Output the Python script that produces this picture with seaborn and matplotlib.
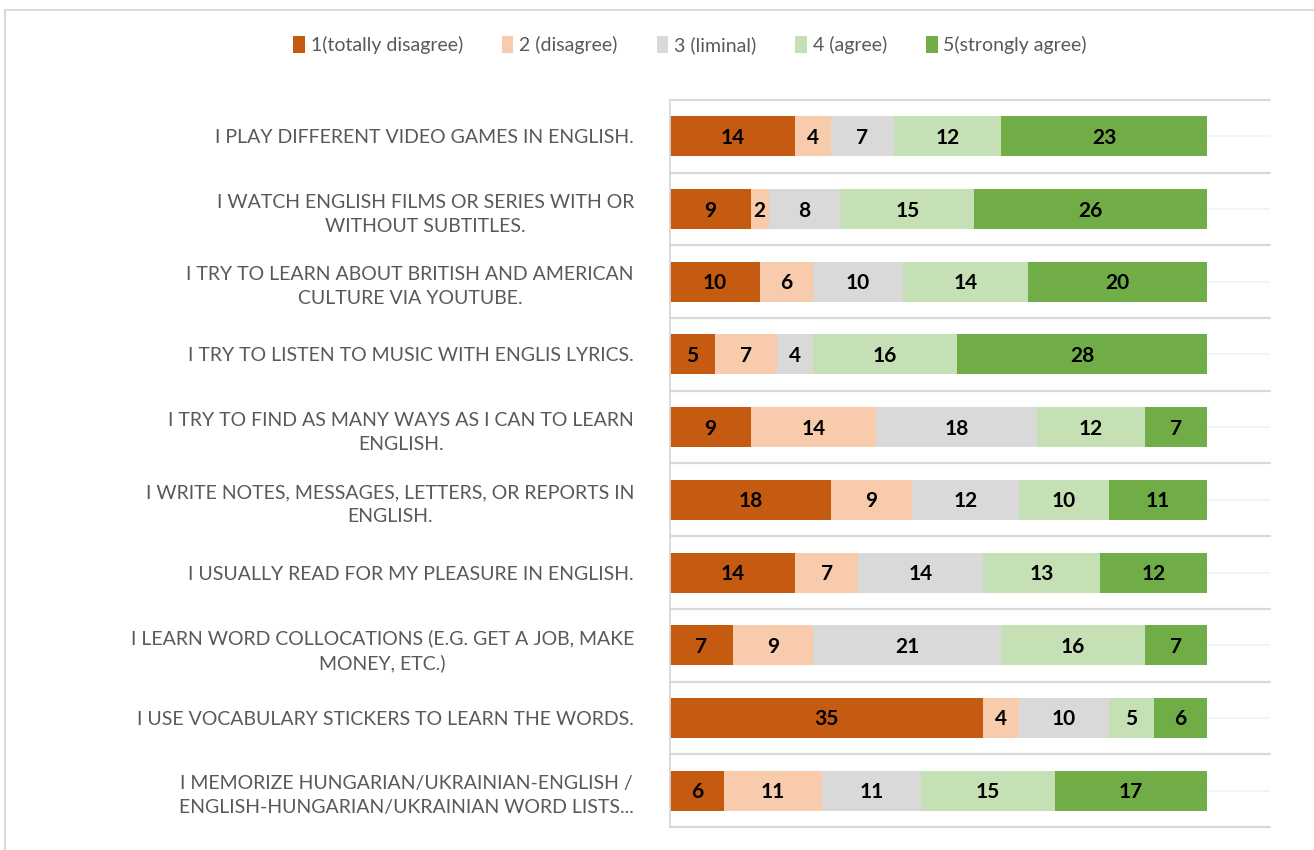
import matplotlib
matplotlib.use("Agg")
import numpy as np
import pandas as pd
import seaborn as sns
import matplotlib.pyplot as plt
from matplotlib.lines import Line2D
from matplotlib.patches import Patch

# statements, top to bottom
statements = [
    "I PLAY DIFFERENT VIDEO GAMES IN ENGLISH.",
    "I WATCH ENGLISH FILMS OR SERIES WITH OR\nWITHOUT SUBTITLES.",
    "I TRY TO LEARN ABOUT BRITISH AND AMERICAN\nCULTURE VIA YOUTUBE.",
    "I TRY TO LISTEN TO MUSIC WITH ENGLIS LYRICS.",
    "I TRY TO FIND AS MANY WAYS AS I CAN TO LEARN\nENGLISH.",
    "I WRITE NOTES, MESSAGES, LETTERS, OR REPORTS IN\nENGLISH.",
    "I USUALLY READ FOR MY PLEASURE IN ENGLISH.",
    "I LEARN WORD COLLOCATIONS (E.G. GET A JOB, MAKE\nMONEY, ETC.)",
    "I USE VOCABULARY STICKERS TO LEARN THE WORDS.",
    "I MEMORIZE HUNGARIAN/UKRAINIAN-ENGLISH /\nENGLISH-HUNGARIAN/UKRAINIAN WORD LISTS...",
]

levels = ["1(totally disagree)", "2 (disagree)", "3 (liminal)", "4 (agree)", "5(strongly agree)"]

totally_disagree = [14, 9, 10, 5, 9, 18, 14, 7, 35, 6]
disagree = [4, 2, 6, 7, 14, 9, 7, 9, 4, 11]
liminal = [7, 8, 10, 4, 18, 12, 14, 21, 10, 11]
agree = [12, 15, 14, 16, 12, 10, 13, 16, 5, 15]
strongly_agree = [23, 26, 20, 28, 7, 11, 12, 7, 6, 17]

colors = ["#C55A11", "#F8CBAD", "#D9D9D9", "#C5E0B4", "#70AD47"]

series = [totally_disagree, disagree, liminal, agree, strongly_agree]
vals = np.array(series)            # shape (5, 10)
cum = vals.cumsum(axis=0)

df = pd.DataFrame({"statement": statements})
for i, lev in enumerate(levels):
    df[lev] = cum[i]

sns.set_theme(style="white")
plt.rcParams["font.family"] = ["Lato", "DejaVu Sans"]

fig = plt.figure(figsize=(13.14, 8.5), dpi=100)
ax = fig.add_axes([670 / 1314, 1 - 827 / 850, 600 / 1314, 727 / 850])

# stacked bars: draw cumulative totals from the longest down
for i in range(len(levels) - 1, -1, -1):
    sns.barplot(data=df, x=levels[i], y="statement", color=colors[i],
                orient="h", width=0.55, saturation=1, linewidth=0, ax=ax)

# segment labels
for i in range(len(levels)):
    for j, v in enumerate(vals[i]):
        ax.text(cum[i, j] - v / 2, j + 0.02, str(v), ha="center", va="center",
                fontsize=15, fontweight="bold", color="black")

n = len(statements)
ax.set_xlim(0, 67)
ax.set_ylim(n - 0.5, -0.5)
ax.set_xlabel("")
ax.set_ylabel("")
ax.set_xticks([])

# gridlines: light at the category centres, darker at the boundaries
for j in range(n):
    ax.axhline(j, color="#F2F2F2", lw=1.2, zorder=0)
for b in np.arange(-0.5, n, 1.0):
    ax.plot([0, 67], [b, b], color="#D9D9D9", lw=1.6, zorder=0.5, clip_on=False)

for s in ["top", "right", "bottom"]:
    ax.spines[s].set_visible(False)
ax.spines["left"].set_color("#D9D9D9")
ax.spines["left"].set_linewidth(1.3)

ax.tick_params(axis="y", length=0, pad=26)
for lab in ax.get_yticklabels():
    lab.set_fontsize(14)
    lab.set_color("#595959")
    lab.set_horizontalalignment("right")
    lab.set_multialignment("center")
    lab.set_linespacing(1.5)

handles = [Patch(facecolor=c, edgecolor="none") for c in colors]
fig.legend(handles, levels, loc="center", bbox_to_anchor=(690 / 1314, 1 - 45 / 850),
           ncol=5, frameon=False, fontsize=14, handlelength=0.6, handleheight=1.0,
           handletextpad=0.3, columnspacing=2.0, labelcolor="#595959")

# chart-area border (top and left visible in the source)
fig.add_artist(Line2D([5 / 1314, 1], [1 - 10 / 850, 1 - 10 / 850], color="#D9D9D9", lw=1.5))
fig.add_artist(Line2D([5 / 1314, 5 / 1314], [0, 1 - 10 / 850], color="#D9D9D9", lw=1.5))

fig.savefig("out.png", dpi=100)
